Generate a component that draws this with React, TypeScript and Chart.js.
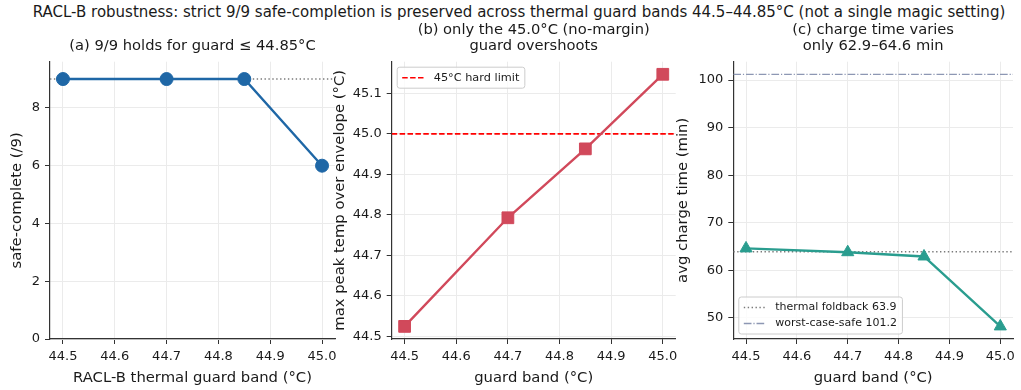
import React, { useEffect, useRef } from 'react';
import { Chart, registerables } from 'chart.js';

Chart.register(...registerables);

const FONT = "'DejaVu Sans', 'Liberation Sans', sans-serif";

// ---- data ----
const guardBand = [44.5, 44.7, 44.85, 45.0];
const safeComplete = [9, 9, 9, 6];
const maxPeakTemp = [44.525, 44.793, 44.963, 45.147];
const avgChargeTime = [64.6, 63.8, 62.9, 48.2];

const guardTicks = [44.5, 44.6, 44.7, 44.8, 44.9, 45.0];
const safeTicks = [0, 2, 4, 6, 8];
const tempTicks = [44.5, 44.6, 44.7, 44.8, 44.9, 45.0, 45.1];
const timeTicks = [50, 60, 70, 80, 90, 100];

const safeTarget = 9;
const safeAxisMax = 9.6;
const hardLimit = 45.0;
const thermalFoldback = 63.9;
const worstCaseSafe = 101.2;

const mainTitle =
  'RACL-B robustness: strict 9/9 safe-completion is preserved across thermal guard bands 44.5–44.85°C (not a single magic setting)';
const titleA = ['(a) 9/9 holds for guard ≤ 44.85°C'];
const titleB = ['(b) only the 45.0°C (no-margin)', 'guard overshoots'];
const titleC = ['(c) charge time varies', 'only 62.9–64.6 min'];
const xTitleA = 'RACL-B thermal guard band (°C)';
const xTitleBC = 'guard band (°C)';
const yTitleA = 'safe-complete (/9)';
const yTitleB = 'max peak temp over envelope (°C)';
const yTitleC = 'avg charge time (min)';
const legendHardLimit = '45°C hard limit';
const legendFoldback = 'thermal foldback 63.9';
const legendWorstCase = 'worst-case-safe 101.2';

// ---- styling ----
const BLUE = '#1f67a6';
const RED = '#d1495b';
const TEAL = '#2a9d8f';
const GRAY = '#7a7a7a';
const SLATE = '#8d97b3';
const HARD_RED = '#ff0000';
const TEXT = '#1a1a1a';

const DOTTED = [1.4, 2.5];
const DASHED = [5.5, 2.4];
const DASHDOT = [7.7, 1.9, 1.2, 1.9];

function autoLimits(lo: number, hi: number): [number, number] {
  const p = (hi - lo) * 0.05;
  return [lo - p, hi + p];
}

const [xMin, xMax] = autoLimits(Math.min(...guardBand), Math.max(...guardBand));

type Ref = { value: number; color: string; dash: number[]; width: number };
type LegendItem = { label: string; color: string; dash: number[]; width: number };

interface PanelSpec {
  left: number;
  width: number;
  areaLeft: number;
  areaRight: number;
  title: string[];
  titlePadTop: number;
  titlePadBottom: number;
  xTitle: string;
  yTitle: string;
  yTitlePad: number;
  values: number[];
  color: string;
  pointStyle: string;
  pointRadius: number;
  yMin: number;
  yMax: number;
  yTicks: number[];
  yFmt: (v: number) => string;
  refs: Ref[];
  legend: LegendItem[];
  legendCorner: 'top' | 'bottom';
  legendFont: number;
}

function makeLegendPlugin(items: LegendItem[], corner: 'top' | 'bottom', fontSize: number) {
  return {
    id: 'boxLegend',
    afterDraw(chart: any) {
      if (!items.length) return;
      const ctx: CanvasRenderingContext2D = chart.ctx;
      const a = chart.chartArea;
      ctx.save();
      ctx.font = `${fontSize}px ${FONT}`;
      const textW = Math.max(...items.map((i) => ctx.measureText(i.label).width));
      const rowH = 16;
      const padY = 10.5;
      const w = 36.5 + textW + 5.5;
      const h = padY * 2 + rowH * (items.length - 1);
      const x = a.left + 5.5;
      const y = corner === 'top' ? a.top + 5.5 : a.bottom - 5 - h;
      ctx.beginPath();
      if ((ctx as any).roundRect) (ctx as any).roundRect(x, y, w, h, 2.5);
      else ctx.rect(x, y, w, h);
      ctx.fillStyle = 'rgba(255,255,255,0.8)';
      ctx.fill();
      ctx.strokeStyle = '#cccccc';
      ctx.lineWidth = 1;
      ctx.stroke();
      items.forEach((it, i) => {
        const cy = y + padY + i * rowH;
        ctx.beginPath();
        ctx.setLineDash(it.dash);
        ctx.strokeStyle = it.color;
        ctx.lineWidth = it.width;
        ctx.moveTo(x + 5, cy);
        ctx.lineTo(x + 27, cy);
        ctx.stroke();
        ctx.setLineDash([]);
        ctx.fillStyle = TEXT;
        ctx.textBaseline = 'middle';
        ctx.textAlign = 'left';
        ctx.fillText(it.label, x + 36.5, cy);
      });
      ctx.restore();
    },
  };
}

const TICK_FONT = 13;
const LABEL_FONT = 14.8;
const TITLE_FONT = 14.7;
const SUPTITLE_FONT = 15;

function Panel({ spec }: { spec: PanelSpec }) {
  const ref = useRef<HTMLCanvasElement | null>(null);
  useEffect(() => {
    if (!ref.current) return;
    const s = spec;
    const datasets: any[] = [
      {
        data: guardBand.map((x, i) => ({ x, y: s.values[i] })),
        borderColor: s.color,
        backgroundColor: s.color,
        borderWidth: 2.4,
        pointStyle: s.pointStyle,
        pointRadius: s.pointRadius,
        pointBorderWidth: 1,
        pointBorderColor: s.color,
        pointBackgroundColor: s.color,
        tension: 0,
        clip: false,
      },
      ...s.refs.map((r) => ({
        data: [
          { x: xMin, y: r.value },
          { x: xMax, y: r.value },
        ],
        borderColor: r.color,
        borderDash: r.dash,
        borderWidth: r.width,
        borderCapStyle: 'butt',
        pointRadius: 0,
        tension: 0,
      })),
    ];
    const gridCfg = { color: '#ebebeb', lineWidth: 1, tickColor: '#333333', tickLength: 5, tickWidth: 1 };
    const borderCfg = { color: '#333333', width: 1.2 };
    const chart = new Chart(ref.current, {
      type: 'line',
      data: { datasets },
      plugins: [makeLegendPlugin(s.legend, s.legendCorner, s.legendFont) as any],
      options: {
        animation: false,
        responsive: false,
        maintainAspectRatio: false,
        events: [],
        layout: { padding: { left: 0, top: 0, bottom: 0, right: s.width - s.areaRight } },
        plugins: {
          legend: { display: false },
          tooltip: { enabled: false },
          title: {
            display: true,
            text: s.title,
            fullSize: false,
            color: TEXT,
            font: { family: FONT, size: TITLE_FONT, weight: 'normal', lineHeight: 16 / TITLE_FONT },
            padding: { top: s.titlePadTop, bottom: s.titlePadBottom },
          },
        },
        scales: {
          x: {
            type: 'linear',
            min: xMin,
            max: xMax,
            afterFit: (sc: any) => {
              sc.height = 51;
            },
            afterBuildTicks: (sc: any) => {
              sc.ticks = guardTicks.map((v) => ({ value: v }));
            },
            ticks: {
              callback: (v: any) => Number(v).toFixed(1),
              font: { family: FONT, size: TICK_FONT },
              color: TEXT,
              padding: 4.5,
              maxRotation: 0,
              autoSkip: false,
            },
            grid: gridCfg,
            border: borderCfg,
            title: {
              display: true,
              text: s.xTitle,
              color: TEXT,
              font: { family: FONT, size: LABEL_FONT },
              padding: { top: 0, bottom: 3.1 },
            },
          },
          y: {
            type: 'linear',
            min: s.yMin,
            max: s.yMax,
            afterFit: (sc: any) => {
              sc.width = s.areaLeft;
            },
            afterBuildTicks: (sc: any) => {
              sc.ticks = s.yTicks.map((v) => ({ value: v }));
            },
            ticks: {
              callback: (v: any) => s.yFmt(Number(v)),
              font: { family: FONT, size: TICK_FONT },
              color: TEXT,
              padding: 5,
              autoSkip: false,
            },
            grid: gridCfg,
            border: borderCfg,
            title: {
              display: true,
              text: s.yTitle,
              color: TEXT,
              font: { family: FONT, size: LABEL_FONT },
              padding: { top: s.yTitlePad, bottom: 0 },
            },
          },
        },
      } as any,
    });
    return () => chart.destroy();
  }, [spec]);
  return (
    <canvas
      ref={ref}
      width={spec.width}
      height={390}
      style={{ position: 'absolute', left: spec.left, top: 0, width: spec.width, height: 390 }}
    />
  );
}

const [tempMin, tempMax] = autoLimits(Math.min(...maxPeakTemp), Math.max(...maxPeakTemp));
const [timeMin, timeMax] = autoLimits(Math.min(...avgChargeTime), Math.max(...avgChargeTime, worstCaseSafe));

const panels: PanelSpec[] = [
  {
    left: 0,
    width: 345,
    areaLeft: 50,
    areaRight: 335,
    title: titleA,
    titlePadTop: 38,
    titlePadBottom: 7.7,
    xTitle: xTitleA,
    yTitle: yTitleA,
    yTitlePad: 8.1,
    values: safeComplete,
    color: BLUE,
    pointStyle: 'circle',
    pointRadius: 6.5,
    yMin: 0,
    yMax: safeAxisMax,
    yTicks: safeTicks,
    yFmt: (v) => String(v),
    refs: [{ value: safeTarget, color: GRAY, dash: DOTTED, width: 1.4 }],
    legend: [],
    legendCorner: 'top',
    legendFont: 11.3,
  },
  {
    left: 325,
    width: 360,
    areaLeft: 66.7,
    areaRight: 352,
    title: titleB,
    titlePadTop: 22.5,
    titlePadBottom: 7.2,
    xTitle: xTitleBC,
    yTitle: yTitleB,
    yTitlePad: 6.1,
    values: maxPeakTemp,
    color: RED,
    pointStyle: 'rect',
    pointRadius: 8.3,
    yMin: tempMin,
    yMax: tempMax,
    yTicks: tempTicks,
    yFmt: (v) => v.toFixed(1),
    refs: [{ value: hardLimit, color: HARD_RED, dash: DASHED, width: 1.6 }],
    legend: [{ label: legendHardLimit, color: HARD_RED, dash: DASHED, width: 1.6 }],
    legendCorner: 'top',
    legendFont: 11.3,
  },
  {
    left: 665,
    width: 356,
    areaLeft: 68.3,
    areaRight: 354,
    title: titleC,
    titlePadTop: 22.5,
    titlePadBottom: 7.2,
    xTitle: xTitleBC,
    yTitle: yTitleC,
    yTitlePad: 9.4,
    values: avgChargeTime,
    color: TEAL,
    pointStyle: 'triangle',
    pointRadius: 7,
    yMin: timeMin,
    yMax: timeMax,
    yTicks: timeTicks,
    yFmt: (v) => String(Math.round(v)),
    refs: [
      { value: thermalFoldback, color: GRAY, dash: DOTTED, width: 1.4 },
      { value: worstCaseSafe, color: SLATE, dash: DASHDOT, width: 1.3 },
    ],
    legend: [
      { label: legendFoldback, color: GRAY, dash: DOTTED, width: 1.4 },
      { label: legendWorstCase, color: SLATE, dash: DASHDOT, width: 1.3 },
    ],
    legendCorner: 'bottom',
    legendFont: 11,
  },
];

export default function App() {
  return (
    <div
      style={{
        position: 'absolute',
        left: 0,
        top: 0,
        width: 1021,
        height: 390,
        background: '#ffffff',
        overflow: 'hidden',
        fontFamily: FONT,
      }}
    >
      <div
        style={{
          position: 'absolute',
          left: 519,
          top: 3.5,
          transform: 'translateX(-50%)',
          whiteSpace: 'nowrap',
          fontSize: SUPTITLE_FONT,
          lineHeight: '17px',
          color: TEXT,
        }}
      >
        {mainTitle}
      </div>
      {panels.map((p, i) => (
        <Panel key={i} spec={p} />
      ))}
    </div>
  );
}
